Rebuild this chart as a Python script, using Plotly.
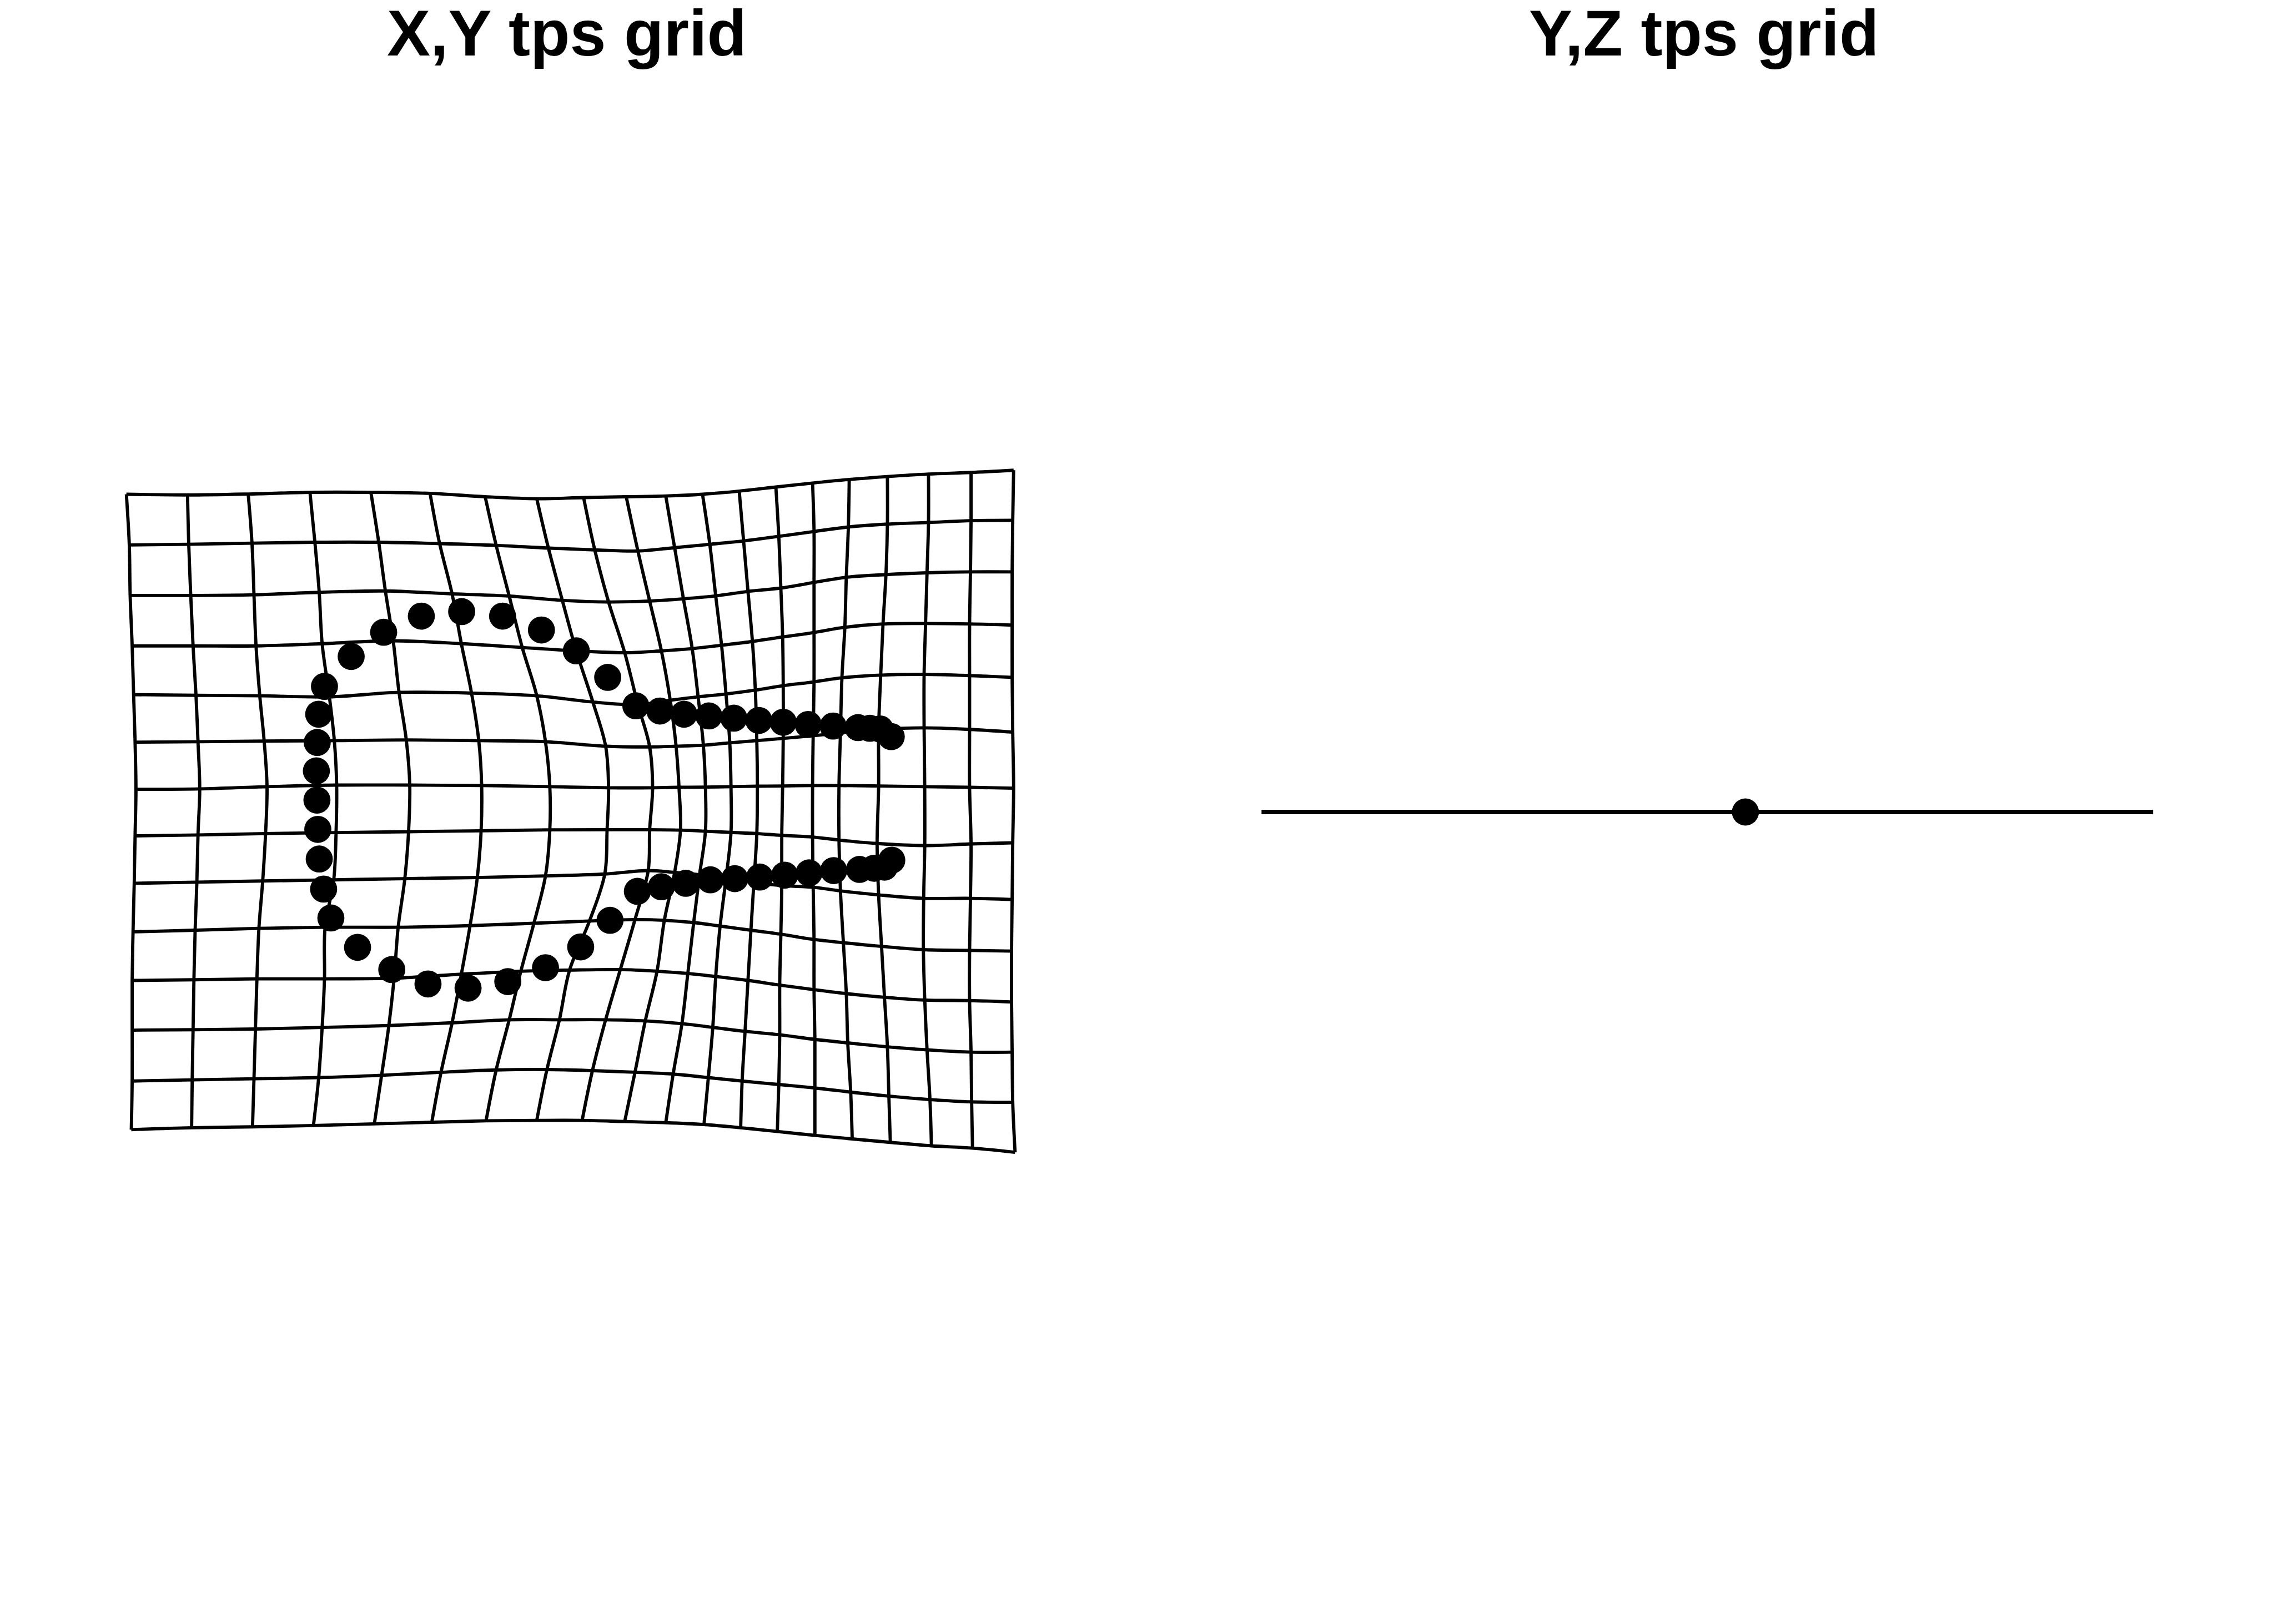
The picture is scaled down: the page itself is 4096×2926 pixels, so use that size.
import plotly.graph_objects as go

# ---- data (reference-pixel units, y downward) ----
# x position of each vertical grid line (V0..V19) at each horizontal level (H0..H13)
vline_x = [
    [233.4, 238.8, 240.4, 244.1, 246.8, 249.5, 251.1, 249.5, 247.9, 245.7, 244.1, 244.1, 244.1, 242.5],
    [346.4, 348.6, 352.3, 356.6, 362.0, 365.7, 368.9, 365.7, 363.6, 360.4, 358.2, 356.6, 355.0, 353.9],
    [458.4, 465.4, 469.1, 472.9, 479.8, 487.9, 493.2, 490.5, 485.2, 478.2, 474.5, 471.8, 469.1, 466.4],
    [572.5, 581.6, 589.6, 595.0, 608.4, 617.5, 621.8, 620.7, 616.4, 600.4, 599.3, 595.0, 588.6, 578.9],
    [685.0, 699.5, 711.8, 726.2, 737.0, 750.4, 756.8, 754.6, 747.7, 735.4, 727.9, 718.2, 704.8, 691.4],
    [794.3, 812.0, 835.0, 852.1, 870.9, 884.3, 889.6, 888.6, 881.6, 868.2, 852.1, 835.0, 814.6, 797.5],
    [896.1, 916.4, 940.5, 964.6, 991.4, 1007.5, 1015.5, 1015.5, 1007.5, 986.1, 962.0, 940.5, 916.4, 897.7],
    [991.4, 1012.9, 1038.6, 1064.4, 1095.0, 1118.6, 1124.0, 1121.3, 1117.0, 1088.8, 1052.0, 1033.2, 1010.2, 991.4],
    [1077.9, 1098.5, 1124.0, 1153.8, 1178.2, 1199.9, 1205.3, 1199.9, 1197.2, 1172.8, 1145.7, 1118.6, 1094.2, 1075.2],
    [1156.6, 1178.2, 1199.9, 1221.6, 1237.9, 1248.7, 1254.1, 1256.8, 1246.0, 1227.0, 1213.5, 1191.8, 1172.8, 1153.8],
    [1229.7, 1246.0, 1262.3, 1278.5, 1289.4, 1299.1, 1302.9, 1302.9, 1292.1, 1281.2, 1270.4, 1259.5, 1243.3, 1229.7],
    [1297.5, 1311.0, 1321.9, 1332.7, 1340.9, 1347.9, 1350.1, 1350.1, 1340.9, 1330.0, 1321.9, 1316.5, 1308.3, 1300.2],
    [1365.3, 1373.4, 1381.5, 1389.7, 1395.1, 1397.8, 1398.9, 1397.8, 1392.4, 1386.9, 1381.5, 1376.1, 1370.7, 1368.0],
    [1433.0, 1438.4, 1442.2, 1445.5, 1446.6, 1446.6, 1445.5, 1443.9, 1443.9, 1442.2, 1440.1, 1440.1, 1438.4, 1435.7],
    [1500.8, 1503.5, 1503.5, 1503.5, 1503.5, 1501.9, 1500.8, 1500.8, 1501.9, 1503.5, 1503.5, 1505.1, 1505.1, 1505.1],
    [1568.5, 1566.9, 1563.1, 1560.4, 1555.0, 1552.3, 1549.6, 1549.6, 1552.3, 1557.7, 1563.1, 1565.8, 1571.2, 1574.0],
    [1639.0, 1639.0, 1636.3, 1630.9, 1626.6, 1622.8, 1622.8, 1620.0, 1622.8, 1628.2, 1633.6, 1639.0, 1641.7, 1644.4],
    [1714.9, 1714.9, 1712.2, 1709.5, 1706.8, 1706.8, 1707.9, 1708.0, 1706.0, 1705.5, 1708.0, 1712.2, 1717.6, 1720.3],
    [1793.5, 1793.5, 1792.4, 1790.8, 1790.8, 1790.8, 1790.8, 1793.5, 1792.4, 1790.8, 1790.8, 1793.5, 1794.6, 1796.2],
    [1872.1, 1870.5, 1869.4, 1869.4, 1869.4, 1870.5, 1872.1, 1870.5, 1869.4, 1868.3, 1868.3, 1869.4, 1870.5, 1874.8],
]

# y position of each horizontal grid line (H0..H13) at each vertical line (V0..V19)
hline_y = [
    [913.0, 914.3, 912.6, 909.5, 909.5, 911.4, 917.6, 921.3, 919.2, 917.6, 916.3, 913.0, 907.2, 899.7, 892.3, 885.7, 880.3, 875.7, 872.8, 868.7],
    [1006.7, 1005.5, 1003.4, 1001.7, 1001.7, 1004.2, 1007.5, 1012.5, 1015.8, 1017.9, 1011.7, 1005.5, 999.2, 990.9, 981.8, 973.5, 968.1, 965.2, 961.9, 961.1],
    [1100.0, 1100.0, 1098.7, 1094.2, 1091.7, 1097.1, 1101.2, 1109.1, 1112.0, 1110.3, 1106.2, 1100.8, 1092.5, 1086.3, 1075.9, 1066.4, 1061.4, 1058.1, 1056.4, 1056.4],
    [1193.2, 1193.2, 1193.2, 1189.1, 1183.7, 1189.1, 1196.1, 1202.4, 1205.7, 1202.4, 1198.2, 1192.0, 1185.0, 1176.7, 1168.4, 1158.8, 1152.6, 1151.8, 1152.6, 1154.7],
    [1283.2, 1284.4, 1285.3, 1287.3, 1279.0, 1280.3, 1285.3, 1296.9, 1301.8, 1293.6, 1287.3, 1282.0, 1274.9, 1266.6, 1259.6, 1252.1, 1247.1, 1245.9, 1248.0, 1251.3],
    [1371.1, 1370.2, 1369.0, 1368.2, 1366.9, 1368.2, 1370.2, 1378.5, 1379.8, 1378.5, 1376.5, 1372.3, 1368.2, 1364.0, 1359.1, 1353.7, 1347.5, 1344.6, 1347.5, 1352.4],
    [1458.1, 1457.3, 1453.2, 1450.3, 1450.3, 1451.1, 1453.2, 1455.2, 1455.2, 1454.4, 1454.0, 1453.2, 1452.3, 1451.9, 1451.1, 1451.1, 1451.9, 1453.2, 1454.4, 1456.1],
    [1544.1, 1542.4, 1539.8, 1538.1, 1536.4, 1534.7, 1533.0, 1532.6, 1532.6, 1533.4, 1535.5, 1537.7, 1539.8, 1543.2, 1546.2, 1551.8, 1558.2, 1562.0, 1559.0, 1556.9],
    [1631.7, 1629.6, 1627.4, 1625.3, 1623.1, 1621.0, 1618.0, 1614.6, 1608.2, 1611.6, 1615.9, 1623.1, 1630.4, 1636.0, 1639.0, 1645.8, 1653.1, 1659.5, 1659.5, 1661.6],
    [1721.4, 1718.4, 1715.0, 1712.9, 1712.9, 1709.9, 1705.6, 1701.3, 1698.8, 1700.1, 1704.3, 1710.7, 1718.4, 1725.7, 1735.5, 1741.5, 1748.3, 1754.3, 1755.6, 1756.9],
    [1811.2, 1809.9, 1808.2, 1808.2, 1806.9, 1799.6, 1794.1, 1792.0, 1791.1, 1794.1, 1798.3, 1803.9, 1811.2, 1819.7, 1828.2, 1835.5, 1842.3, 1847.5, 1848.3, 1850.9],
    [1903.0, 1902.2, 1900.9, 1897.9, 1894.5, 1889.4, 1883.8, 1883.8, 1883.8, 1885.9, 1891.1, 1897.9, 1905.2, 1911.6, 1920.1, 1926.5, 1933.8, 1939.3, 1943.6, 1943.6],
    [1997.0, 1994.9, 1992.8, 1990.6, 1986.3, 1980.8, 1976.5, 1975.7, 1977.8, 1980.8, 1984.2, 1990.6, 1997.0, 2003.4, 2009.8, 2017.5, 2024.8, 2031.2, 2035.5, 2036.3],
    [2086.8, 2083.3, 2081.6, 2079.1, 2076.1, 2073.1, 2070.5, 2069.7, 2069.7, 2071.8, 2073.9, 2077.4, 2083.3, 2090.2, 2097.4, 2103.9, 2110.3, 2116.7, 2120.9, 2128.6],
]

# target landmarks (X,Y view)
lm_x = [1646.1, 1625.5, 1606.5, 1584.8, 1538.7, 1492.7, 1446.6, 1401.6, 1355.5, 1309.4,
        1263.3, 1218.9, 1174.4, 1122.4, 1064.4, 1000.0, 928.2, 852.7, 778.2, 708.6,
        648.6, 599.3, 588.6, 585.9, 584.3, 585.4, 587.0, 589.6, 597.7, 611.1,
        660.4, 723.6, 790.5, 864.5, 937.9, 1007.5, 1072.5, 1126.7, 1177.2, 1221.6,
        1266.6, 1312.1, 1357.1, 1403.2, 1449.3, 1494.3, 1539.8, 1587.5, 1614.6, 1633.6,
        1647.1]
lm_y = [1360.7, 1346.6, 1345.4, 1344.1, 1341.2, 1338.3, 1334.2, 1330.9, 1326.7, 1322.6,
        1319.3, 1313.5, 1303.9, 1251.3, 1202.4, 1163.8, 1138.1, 1129.8, 1138.1, 1168.0,
        1212.7, 1267.9, 1319.3, 1371.5, 1424.1, 1478.0, 1532.1, 1586.8, 1642.4, 1695.8,
        1750.0, 1791.1, 1817.6, 1825.3, 1813.3, 1787.7, 1749.2, 1700.1, 1646.6, 1638.1,
        1631.7, 1625.3, 1623.1, 1620.2, 1616.7, 1612.5, 1608.2, 1606.1, 1603.9, 1601.8,
        1589.0]

# Y,Z view: the grid collapses to a single line, landmarks to one point
yz_line_x = [2330.0, 3976.7]
yz_line_y = [1500.0, 1500.0]
yz_pt_x = [3223.7]
yz_pt_y = [1500.0]

titles = ["X,Y tps grid", "Y,Z tps grid"]
title_x = [1047.0, 3147.0]

S = 0.975
W, H = 4096, 2926
GRID_W = 6 * S
DOT = 50 * S

fig = go.Figure()

# horizontal grid lines
for i, row in enumerate(hline_y):
    xs = [vline_x[j][i] for j in range(len(vline_x))]
    fig.add_trace(go.Scatter(x=xs, y=row, mode="lines",
                             line=dict(color="black", width=GRID_W, shape="spline", smoothing=1.0),
                             hoverinfo="skip", showlegend=False, xaxis="x", yaxis="y"))
# vertical grid lines
for j, col in enumerate(vline_x):
    ys = [hline_y[i][j] for i in range(len(hline_y))]
    fig.add_trace(go.Scatter(x=col, y=ys, mode="lines",
                             line=dict(color="black", width=GRID_W, shape="spline", smoothing=1.0),
                             hoverinfo="skip", showlegend=False, xaxis="x", yaxis="y"))
# landmarks
fig.add_trace(go.Scatter(x=lm_x, y=lm_y, mode="markers",
                         marker=dict(color="black", size=DOT, line=dict(width=0)),
                         hoverinfo="skip", showlegend=False, xaxis="x", yaxis="y"))

# Y,Z panel
fig.add_trace(go.Scatter(x=yz_line_x, y=yz_line_y, mode="lines",
                         line=dict(color="black", width=8 * S),
                         hoverinfo="skip", showlegend=False, xaxis="x2", yaxis="y2"))
fig.add_trace(go.Scatter(x=yz_pt_x, y=yz_pt_y, mode="markers",
                         marker=dict(color="black", size=DOT, line=dict(width=0)),
                         hoverinfo="skip", showlegend=False, xaxis="x2", yaxis="y2"))

ax = dict(visible=False, showgrid=False, zeroline=False, fixedrange=True)
fig.update_layout(
    width=W, height=H,
    margin=dict(l=0, r=0, t=0, b=0, pad=0),
    paper_bgcolor="white", plot_bgcolor="white",
    xaxis=dict(domain=[0, 0.5], range=[0, 2100], **ax),
    yaxis=dict(domain=[0, 1], range=[3000, 0], **ax),
    xaxis2=dict(domain=[0.5, 1], range=[2100, 4200], anchor="y2", **ax),
    yaxis2=dict(domain=[0, 1], range=[3000, 0], anchor="x2", **ax),
    showlegend=False,
)

for k, (t, tx) in enumerate(zip(titles, title_x)):
    fig.add_annotation(text="<b>" + t + "</b>", x=tx, y=61.2,
                       xref="x" if k == 0 else "x2", yref="y" if k == 0 else "y2",
                       xanchor="center", yanchor="middle", showarrow=False, borderpad=0,
                       font=dict(family="Liberation Sans, Arial, sans-serif", size=120 * S, color="black"))

fig.write_html("out.html")
